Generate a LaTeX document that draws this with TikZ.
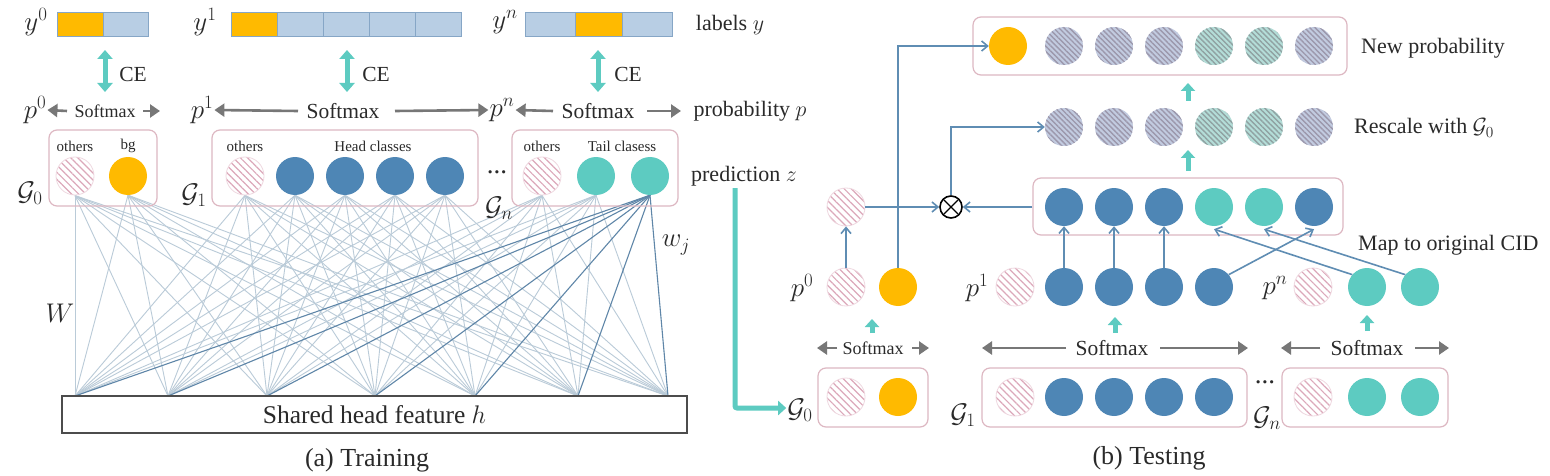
\RequirePackage{fix-cm}
\documentclass[tikz,border=0pt]{standalone}
\usepackage{fontspec}
\setmainfont{Liberation Serif}
\usetikzlibrary{arrows.meta,patterns.meta}
\definecolor{orng}{HTML}{FFBA00}
\definecolor{bl}{HTML}{4E86B5}
\definecolor{tl}{HTML}{5DCBC1}
\definecolor{cell}{HTML}{B8CEE4}
\definecolor{celld}{HTML}{86A6C6}
\definecolor{grpb}{HTML}{DDB8C2}
\definecolor{pinkh}{HTML}{DCA8BA}
\definecolor{grayh}{HTML}{9C98AC}
\definecolor{grayf}{HTML}{C2CBE0}
\definecolor{tealh}{HTML}{90A2A2}
\definecolor{tealf}{HTML}{B4DDD8}
\definecolor{fcl}{HTML}{BACBD8}
\definecolor{fcd}{HTML}{5F86A8}
\definecolor{arrg}{HTML}{777777}
\definecolor{conn}{HTML}{5F8DB3}
\definecolor{txt}{HTML}{2A2A2A}
\pgfdeclarelayer{back}
\pgfdeclarelayer{bg}
\pgfsetlayers{back,bg,main}
\tikzset{
  cc/.style={circle,minimum size=38pt,inner sep=0pt},
  hpink/.style={cc,draw=pinkh!45,line width=0.8pt,pattern={Lines[angle=-45,distance=5pt,line width=1.2pt]},pattern color=pinkh},
  hgray/.style={cc,preaction={fill=grayf},pattern={Lines[angle=-45,distance=3.7pt,line width=1.4pt]},pattern color=grayh},
  hteal/.style={cc,preaction={fill=tealf},pattern={Lines[angle=-45,distance=3.7pt,line width=1.4pt]},pattern color=tealh},
  corng/.style={cc,fill=orng},
  cblue/.style={cc,fill=bl},
  cteal/.style={cc,fill=tl},
  grp/.style={draw=grpb,line width=1.2pt,rounded corners=8pt,inner sep=0pt},
  lcell/.style={draw=celld,line width=1pt,fill=cell,minimum height=24pt,inner sep=0pt},
  ocell/.style={lcell,fill=orng},
  mlab/.style={text=txt,inner sep=1pt,font=\fontsize{27}{31}\selectfont},
  tlab/.style={text=txt,inner sep=1pt,font=\fontsize{22}{26}\selectfont},
  captxt/.style={text=txt,inner sep=1pt,font=\fontsize{26}{30}\selectfont},
  smL/.style={text=txt,inner sep=0pt,font=\fontsize{21.5}{25}\selectfont},
  smS/.style={text=txt,inner sep=0pt,font=\fontsize{18}{22}\selectfont},
  slab/.style={text=txt,inner sep=0pt,font=\fontsize{15}{18}\selectfont},
  garr/.style={draw=arrg,line width=2.6pt,-{Triangle[length=10pt,width=13pt]}},
  tarr/.style={draw=tl,line width=5pt,-{Triangle[length=8pt,width=14pt]}},
  cearr/.style={draw=tl,line width=5pt,{Triangle[length=9pt,width=15pt]}-{Triangle[length=9pt,width=15pt]}},
  carr/.style={draw=conn,line width=1.6pt,-{Straight Barb[length=6pt,width=10pt]}},
  fcline/.style={draw=fcl,line width=0.9pt},
  fcdark/.style={draw=fcd,line width=1.1pt},
  ot/.style={circle,draw=black,line width=1.6pt,minimum size=22pt,inner sep=0pt,
    path picture={\draw[line width=1.3pt] ([shift={(4pt,-4pt)}]path picture bounding box.north west)--([shift={(-4pt,4pt)}]path picture bounding box.south east)
      ([shift={(-4pt,-4pt)}]path picture bounding box.north east)--([shift={(4pt,4pt)}]path picture bounding box.south west);}},
}
\begin{document}
\begin{tikzpicture}[x=1pt,y=-1pt]
\useasboundingbox (0,0) rectangle (1550,476);
\begin{pgfonlayer}{back}
\fill[white] (0,0) rectangle (1550,476);
\end{pgfonlayer}
% ---------------- (a) Training ----------------
% label bars
\node[mlab] (y0) at (36,22) {$y^0$};
\node[ocell,minimum width=46pt] (y0a) at (80,25) {};
\node[lcell,minimum width=45pt] (y0b) at (125.5,25) {};
\node[mlab] (y1) at (205,22) {$y^1$};
\node[ocell,minimum width=46pt] (y1a) at (254,25) {};
\foreach \i/\x in {b/300,c/346,d/392,e/438} \node[lcell,minimum width=46pt] (y1\i) at (\x,25) {};
\node[mlab] (yn) at (505,22) {$y^n$};
\node[lcell,minimum width=50pt] (yna) at (550,25) {};
\node[ocell,minimum width=48pt] (ynb) at (599,25) {};
\node[lcell,minimum width=50pt] (ync) at (647,25) {};
\node[tlab] (laby) at (730,25) {labels $y$};
% CE arrows
\coordinate (ce0t) at (105,50); \coordinate (ce0b) at (105,92);
\coordinate (ce1t) at (347,50); \coordinate (ce1b) at (347,92);
\coordinate (cent) at (598,50); \coordinate (ceNb) at (598,92);
\draw[cearr] (ce0t) -- (ce0b);
\draw[cearr] (ce1t) -- (ce1b);
\draw[cearr] (cent) -- (ceNb);
\node[smL] (ce0) at (133,74) {CE};
\node[smL] (ce1) at (376,74) {CE};
\node[smL] (cen) at (628,74) {CE};
% softmax row
\node[mlab] (p0) at (35,110) {$p^0$};
\node[smS] (sm0) at (105,111) {Softmax};
\coordinate (sm0l) at (67,111); \coordinate (sm0r) at (143,111); \coordinate (sm0re) at (160,111);
\draw[garr] (sm0l) -- (p0.east);
\draw[garr] (sm0r) -- (sm0re);
\node[mlab] (p1) at (202,110) {$p^1$};
\node[smL] (sm1) at (343,111) {Softmax};
\coordinate (sm1l) at (298,111); \coordinate (sm1r) at (395,111);
\draw[garr] (sm1l) -- (p1.east);
\node[mlab] (pn) at (502,110) {$p^n$};
\draw[garr] (sm1r) -- (pn.west);
\node[smL] (smn) at (598,111) {Softmax};
\coordinate (smnl) at (553,111); \coordinate (smnr) at (647,111); \coordinate (smnre) at (681,111);
\draw[garr] (smnl) -- (pn.east);
\draw[garr] (smnr) -- (smnre);
\node[tlab] (labp) at (750,111) {probability $p$};
% group boxes
\node[grp,minimum width=108pt,minimum height=76pt] (G0) at (103,168) {};
\node[grp,minimum width=266pt,minimum height=76pt] (G1) at (345,168) {};
\node[grp,minimum width=166pt,minimum height=76pt] (Gn) at (595,168) {};
\node[slab] (o0) at (75,146) {others};
\node[slab] (bg) at (128,146) {bg};
\node[slab] (o1) at (245,146) {others};
\node[slab] (hc) at (373,146) {Head classes};
\node[slab] (on) at (542,146) {others};
\node[slab] (tc) at (622,146) {Tail clasess};
\node[hpink] (a0o) at (75,176) {};
\node[corng] (a0b) at (128,176) {};
\node[hpink] (a1o) at (245,176) {};
\node[cblue] (a11) at (295,176) {};
\node[cblue] (a12) at (345,176) {};
\node[cblue] (a13) at (395,176) {};
\node[cblue] (a14) at (445,176) {};
\node[hpink] (ano) at (542,176) {};
\node[cteal] (an1) at (596,176) {};
\node[cteal] (an2) at (650,176) {};
\node[mlab] (lg0) at (30,193) {$\mathcal{G}_0$};
\node[mlab] (lg1) at (194,195) {$\mathcal{G}_1$};
\node[mlab] (dots1) at (497,172) {...};
\node[mlab] (lgn) at (499,208) {$\mathcal{G}_n$};
\node[tlab] (labz) at (744,176) {prediction $z$};
% shared head
\node[draw=black!70,line width=1.3pt,minimum width=625pt,minimum height=37pt,inner sep=0pt,text=txt,font=\fontsize{25.5}{29}\selectfont] (H) at (374.5,414.5) {Shared head feature $h$};
\foreach \i/\x in {1/75,2/168,3/267,4/375,5/475,6/578,7/668} \coordinate (h\i) at (\x,396);
\begin{pgfonlayer}{bg}
\foreach \c in {a0o,a0b,a1o,a11,a12,a13,a14,ano,an1}
  \foreach \k in {1,...,7} \draw[fcline] (\c.south) -- (h\k);
\foreach \k in {1,...,7} \draw[fcdark] (an2.south) -- (h\k);
\end{pgfonlayer}
\node[mlab] (W) at (60,313) {$W$};
\node[mlab] (wj) at (676,245) {$w_j$};
\node[captxt] (capa) at (367,460) {(a) Training};
% prediction arrow to testing
\coordinate (pz) at (735,188); \coordinate (pzc) at (735,408);
% ---------------- (b) Testing ----------------
% new probability
\node[grp,minimum width=374pt,minimum height=58pt] (NP) at (1160,46) {};
\node[corng] (n0) at (1008,46) {};
\node[hgray] (n1) at (1064,46) {};
\node[hgray] (n2) at (1114,46) {};
\node[hgray] (n3) at (1164,46) {};
\node[hteal] (n4) at (1214,46) {};
\node[hteal] (n5) at (1264,46) {};
\node[hgray] (n6) at (1314,46) {};
\node[tlab,anchor=west] (labnp) at (1360,48) {New probability};
% rescale
\node[hgray] (r1) at (1064,127) {};
\node[hgray] (r2) at (1114,127) {};
\node[hgray] (r3) at (1164,127) {};
\node[hteal] (r4) at (1214,127) {};
\node[hteal] (r5) at (1264,127) {};
\node[hgray] (r6) at (1314,127) {};
\node[tlab,anchor=west] (labrs) at (1353,128) {Rescale with $\mathcal{G}_0$};
\coordinate (u1a) at (1188,101); \coordinate (u1b) at (1188,83);
\coordinate (u2a) at (1188,171); \coordinate (u2b) at (1188,150);
\draw[tarr] (u1a) -- (u1b);
\draw[tarr] (u2a) -- (u2b);
% mapped row
\node[grp,minimum width=310pt,minimum height=57pt] (MB) at (1188,206.5) {};
\node[cblue] (m1) at (1064,207) {};
\node[cblue] (m2) at (1114,207) {};
\node[cblue] (m3) at (1164,207) {};
\node[cteal] (m4) at (1214,207) {};
\node[cteal] (m5) at (1264,207) {};
\node[cblue] (m6) at (1314,207) {};
\node[ot] (OT) at (951,207) {};
\node[hpink] (g0h) at (846,207) {};
\node[tlab,anchor=west] (labmap) at (1357,245) {Map to original CID};
% p rows
\node[mlab] (tp0) at (802,288) {$p^0$};
\node[hpink] (q0o) at (846,287) {};
\node[corng] (q0b) at (898,287) {};
\node[mlab] (tp1) at (977,288) {$p^1$};
\node[hpink] (q1o) at (1015,287) {};
\node[cblue] (q11) at (1064,287) {};
\node[cblue] (q12) at (1114,287) {};
\node[cblue] (q13) at (1164,287) {};
\node[cblue] (q14) at (1214,287) {};
\node[mlab] (tpn) at (1275,288) {$p^n$};
\node[hpink] (qno) at (1313,287) {};
\node[cteal] (qn1) at (1367,287) {};
\node[cteal] (qn2) at (1420,287) {};
% connectors
\draw[carr] (g0h) -- (OT);
\draw[carr] (MB.west |- OT) -- (OT);
\draw[carr] (OT.north) |- (r1);
\draw[carr] (q0b.north) |- (n0);
\draw[carr] (q0o) -- (g0h);
\draw[carr] (q11.north) -- (m1.south);
\draw[carr] (q12.north) -- (m2.south);
\draw[carr] (q13.north) -- (m3.south);
\draw[carr] (q14.40) -- ([yshift=-3pt]m6.south);
\draw[carr] (qn1.140) -- ([yshift=-3pt]m4.south);
\draw[carr] (qn2.140) -- ([yshift=-3pt]m5.south);
% softmax test
\coordinate (t0a) at (872,333); \coordinate (t0b) at (872,319);
\coordinate (t1a) at (1115,333); \coordinate (t1b) at (1115,317);
\coordinate (tna) at (1367,331); \coordinate (tnb) at (1367,315);
\draw[tarr] (t0a) -- (t0b);
\draw[tarr] (t1a) -- (t1b);
\draw[tarr] (tna) -- (tnb);
\node[smS] (tsm0) at (873,348) {Softmax};
\coordinate (ts0l) at (837,348); \coordinate (ts0le) at (817,348);
\coordinate (ts0r) at (912,348); \coordinate (ts0re) at (929,348);
\draw[garr] (ts0l) -- (ts0le);
\draw[garr] (ts0r) -- (ts0re);
\node[smL] (tsm1) at (1112,348) {Softmax};
\coordinate (ts1l) at (1066,348); \coordinate (ts1le) at (982,348);
\coordinate (ts1r) at (1160,348); \coordinate (ts1re) at (1248,348);
\draw[garr] (ts1l) -- (ts1le);
\draw[garr] (ts1r) -- (ts1re);
\node[smL] (tsmn) at (1367,348) {Softmax};
\coordinate (tsnl) at (1320,348); \coordinate (tsnle) at (1281,348);
\coordinate (tsnr) at (1415,348); \coordinate (tsnre) at (1449,348);
\draw[garr] (tsnl) -- (tsnle);
\draw[garr] (tsnr) -- (tsnre);
% G boxes test
\node[grp,minimum width=110pt,minimum height=59pt] (TG0) at (873,397.5) {};
\node[grp,minimum width=265pt,minimum height=59pt] (TG1) at (1114.5,397.5) {};
\node[grp,minimum width=166pt,minimum height=59pt] (TGn) at (1365,397.5) {};
\node[hpink] (s0o) at (846,397) {};
\node[corng] (s0b) at (898,397) {};
\node[hpink] (s1o) at (1015,397) {};
\node[cblue] (s11) at (1064,397) {};
\node[cblue] (s12) at (1114,397) {};
\node[cblue] (s13) at (1164,397) {};
\node[cblue] (s14) at (1214,397) {};
\node[hpink] (sno) at (1313,397) {};
\node[cteal] (sn1) at (1367,397) {};
\node[cteal] (sn2) at (1420,397) {};
\node[mlab] (tg0) at (800,410) {$\mathcal{G}_0$};
\node[mlab] (tg1) at (963,415) {$\mathcal{G}_1$};
\node[mlab] (dots2) at (1265,382) {...};
\node[mlab] (tgn) at (1267,418) {$\mathcal{G}_n$};
\draw[tarr,line width=5pt,rounded corners=2pt] (pz) -- (pzc) -- (tg0.west |- pzc);
\node[captxt] (capb) at (1149,458) {(b) Testing};
\end{tikzpicture}
\end{document}
